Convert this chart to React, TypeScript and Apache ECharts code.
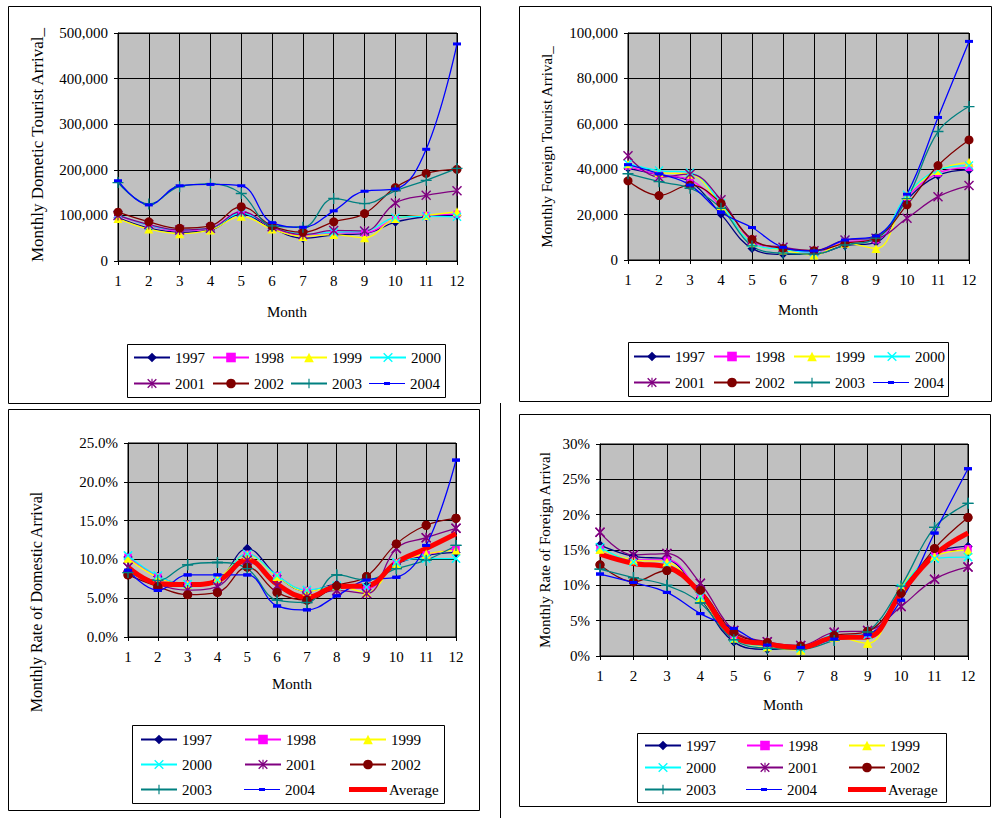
import React, { useEffect, useRef } from "react";
import * as echarts from "echarts";

const MONTHS = ["1", "2", "3", "4", "5", "6", "7", "8", "9", "10", "11", "12"];
const YEARS = ["1997", "1998", "1999", "2000", "2001", "2002", "2003", "2004"];

// Panel 1: monthly domestic tourist arrivals
const domestic1997 = [95000, 72000, 63000, 68000, 103000, 72000, 50000, 57000, 60000, 85000, 97000, 100000];
const domestic1998 = [100000, 78000, 66000, 72000, 108000, 74000, 56000, 62000, 62000, 92000, 100000, 103000];
const domestic1999 = [93000, 70000, 60000, 68000, 98000, 70000, 54000, 58000, 51000, 93000, 100000, 108000];
const domestic2000 = [102000, 78000, 68000, 72000, 105000, 76000, 59000, 63000, 65000, 95000, 98000, 97000];
const domestic2001 = [100000, 80000, 68000, 72000, 108000, 75000, 58000, 67000, 66000, 127000, 144000, 154000];
const domestic2002 = [107000, 86000, 72000, 77000, 119000, 77000, 63000, 86000, 104000, 161000, 192000, 201000];
const domestic2003 = [172000, 125000, 163000, 169000, 148000, 77000, 74000, 137000, 126000, 154000, 177000, 203000];
const domestic2004 = [176000, 123000, 165000, 168000, 165000, 84000, 74000, 110000, 153000, 158000, 245000, 476000];

// Panel 2: monthly foreign tourist arrivals
const foreign1997 = [40400, 37500, 34600, 20100, 5100, 2500, 2600, 6300, 7800, 26500, 37200, 39700];
const foreign1998 = [41200, 37500, 35300, 23500, 8000, 4700, 3400, 8000, 8800, 27600, 38200, 40700];
const foreign1999 = [42400, 38500, 37800, 24000, 7600, 4400, 2200, 7400, 5100, 28400, 39400, 43100];
const foreign2000 = [42400, 39400, 38500, 25000, 7400, 4700, 3400, 8800, 9600, 28700, 39700, 41600];
const foreign2001 = [45900, 36500, 37800, 26500, 8800, 5600, 4100, 8800, 9600, 18400, 27900, 32800];
const foreign2002 = [34900, 28400, 33000, 25000, 9100, 5100, 4100, 7400, 9700, 24300, 41600, 52900];
const foreign2003 = [38000, 34500, 31600, 22800, 6200, 3000, 2600, 6600, 9600, 27000, 56600, 67600];
const foreign2004 = [42000, 38000, 33000, 21000, 14300, 5600, 4000, 8800, 10600, 29000, 62800, 96300];

// Panel 3: monthly rate of domestic arrival (%)
const domRate1997 = [10.3, 7.8, 6.8, 7.35, 11.4, 7.9, 5.9, 6.75, 6.6, 9.4, 10.5, 10.9];
const domRate1998 = [10.3, 7.8, 6.8, 7.35, 10.7, 7.9, 6.0, 6.6, 6.2, 9.55, 10.6, 11.4];
const domRate1999 = [10.1, 7.7, 6.75, 7.5, 10.6, 7.8, 5.9, 6.6, 5.75, 9.5, 10.7, 11.2];
const domRate2000 = [10.5, 7.9, 6.8, 7.35, 10.7, 7.9, 6.05, 6.6, 6.4, 9.6, 10.1, 10.1];
const domRate2001 = [9.0, 6.8, 6.05, 6.5, 9.9, 6.6, 5.2, 6.0, 5.6, 11.4, 12.8, 14.0];
const domRate2002 = [8.0, 6.5, 5.45, 5.75, 9.0, 5.75, 4.75, 6.6, 7.8, 12.0, 14.4, 15.3];
const domRate2003 = [8.3, 7.3, 9.3, 9.6, 8.8, 4.75, 4.45, 8.0, 7.35, 8.8, 9.9, 11.8];
const domRate2004 = [8.6, 6.0, 8.0, 8.0, 8.0, 4.0, 3.5, 5.3, 7.35, 7.7, 11.8, 22.8];
const domRateAverage = [9.0, 6.9, 6.75, 7.2, 9.95, 6.8, 5.1, 6.5, 6.6, 9.6, 11.4, 13.3];

// Panel 4: monthly rate of foreign arrival (%)
const forRate1997 = [15.7, 14.1, 13.7, 8.2, 2.0, 0.95, 1.2, 2.6, 3.0, 9.3, 14.5, 15.5];
const forRate1998 = [15.2, 13.6, 13.6, 8.6, 2.7, 1.55, 1.3, 2.8, 3.05, 9.3, 14.3, 15.2];
const forRate1999 = [15.1, 13.6, 13.3, 8.3, 2.5, 1.3, 0.85, 2.7, 1.8, 9.8, 14.1, 15.0];
const forRate2000 = [15.4, 13.3, 12.9, 8.4, 2.5, 1.4, 1.1, 3.0, 3.0, 9.6, 13.8, 14.0];
const forRate2001 = [17.5, 14.3, 14.5, 10.3, 3.6, 2.0, 1.5, 3.35, 3.6, 7.0, 10.85, 12.6];
const forRate2002 = [12.9, 10.5, 12.1, 9.3, 3.35, 1.9, 1.4, 2.9, 3.5, 8.9, 15.2, 19.6];
const forRate2003 = [12.3, 11.1, 10.0, 7.5, 2.3, 1.1, 0.95, 2.2, 3.4, 9.9, 18.2, 21.6];
const forRate2004 = [11.6, 10.4, 9.0, 6.0, 3.9, 1.55, 1.2, 2.4, 3.0, 7.9, 17.4, 26.5];
const forRateAverage = [14.4, 13.1, 12.6, 8.9, 2.8, 1.7, 1.2, 2.6, 2.7, 8.9, 14.3, 17.4];

const DOMESTIC = [domestic1997, domestic1998, domestic1999, domestic2000, domestic2001, domestic2002, domestic2003, domestic2004];
const FOREIGN = [foreign1997, foreign1998, foreign1999, foreign2000, foreign2001, foreign2002, foreign2003, foreign2004];
const DOM_RATE = [domRate1997, domRate1998, domRate1999, domRate2000, domRate2001, domRate2002, domRate2003, domRate2004];
const FOR_RATE = [forRate1997, forRate1998, forRate1999, forRate2000, forRate2001, forRate2002, forRate2003, forRate2004];

const FONT = "Liberation Serif";

const X_PATH = "path://M0,1L1,0L5,4L9,0L10,1L6,5L10,9L9,10L5,6L1,10L0,9L4,5Z";
const STAR_PATH = "path://M0,1L1,0L5,4L9,0L10,1L6,5L10,9L9,10L5,6L1,10L0,9L4,5Z M4.4,0L5.6,0L5.6,10L4.4,10Z";
const PLUS_PATH = "path://M4.4,0L5.6,0L5.6,4.4L10,4.4L10,5.6L5.6,5.6L5.6,10L4.4,10L4.4,5.6L0,5.6L0,4.4L4.4,4.4Z";
const DASH_PATH = "path://M0,0L10,0L10,4L0,4Z";
const DASH_LEGEND_ICON = "path://M0,5.5L36,5.5L36,6.5L0,6.5Z M15,4.5L21,4.5L21,7.5L15,7.5Z";
const AVG_LEGEND_ICON = "path://M0,0L38,0L38,5L0,5Z";

const STYLE: Record<string, { color: string; symbol: string; size: any }> = {
  "1997": { color: "#000080", symbol: "diamond", size: 9 },
  "1998": { color: "#FF00FF", symbol: "rect", size: 7 },
  "1999": { color: "#FFFF00", symbol: "triangle", size: 9 },
  "2000": { color: "#00FFFF", symbol: X_PATH, size: 9 },
  "2001": { color: "#800080", symbol: STAR_PATH, size: 10 },
  "2002": { color: "#800000", symbol: "circle", size: 9 },
  "2003": { color: "#008080", symbol: PLUS_PATH, size: 11 },
  "2004": { color: "#0000FF", symbol: DASH_PATH, size: [8, 3] },
};

const GRIDS = [
  { left: 118, top: 33, width: 339, height: 228 },
  { left: 628, top: 33, width: 341, height: 227 },
  { left: 128, top: 443, width: 328, height: 194 },
  { left: 600, top: 444, width: 368, height: 212 },
];

function yearSeries(idx: number, name: string, data: number[], z: number, markersOnly = false) {
  const s = STYLE[name];
  return {
    type: "line",
    name,
    xAxisIndex: idx,
    yAxisIndex: idx,
    data,
    smooth: 0.4,
    symbol: s.symbol,
    symbolSize: s.size,
    showAllSymbol: true,
    z,
    silent: markersOnly,
    lineStyle: markersOnly ? { width: 0, opacity: 0 } : { color: s.color, width: 1.3 },
    itemStyle: { color: s.color },
    emphasis: { disabled: true },
  };
}

function avgSeries(idx: number, data: number[]) {
  return {
    type: "line",
    name: "Average",
    xAxisIndex: idx,
    yAxisIndex: idx,
    data,
    smooth: 0.4,
    symbol: "none",
    z: 4,
    lineStyle: { color: "#FF0000", width: 5 },
    itemStyle: { color: "#FF0000" },
    emphasis: { disabled: true },
  };
}

function legendItem(name: string, x: number, yc: number) {
  let item: any = name;
  let w = 36;
  let h = 12;
  if (name === "2004") item = { name, icon: DASH_LEGEND_ICON, itemStyle: { color: "#0000FF" } };
  if (name === "Average") {
    item = { name, icon: AVG_LEGEND_ICON, itemStyle: { color: "#FF0000" } };
    w = 38;
    h = 5;
  }
  return {
    show: true,
    left: x,
    top: yc - 6,
    padding: 0,
    itemWidth: w,
    itemHeight: h,
    itemGap: 0,
    selectedMode: false,
    data: [item],
    textStyle: { fontFamily: FONT, fontSize: 15, color: "#000", padding: [0, 0, 0, name === "Average" ? -3 : 0] },
  };
}

function buildOption() {
  const xAxes = GRIDS.map((_, i) => ({
    type: "category",
    gridIndex: i,
    data: MONTHS,
    boundaryGap: false,
    axisLine: { show: true, lineStyle: { color: "#000", width: 1 } },
    axisTick: { show: true, length: 4, lineStyle: { color: "#000" } },
    axisLabel: { fontFamily: FONT, fontSize: 15, color: "#000", margin: 12 },
    splitLine: { show: true, lineStyle: { color: "#000", width: 1 } },
  }));

  const yCommon = {
    type: "value",
    min: 0,
    axisLine: { show: true, lineStyle: { color: "#000", width: 1 } },
    axisTick: { show: true, length: 4, lineStyle: { color: "#000" } },
    splitLine: { show: true, lineStyle: { color: "#000", width: 1 } },
  };
  const labelBase = { fontFamily: FONT, fontSize: 15, color: "#000", margin: 10 };
  const yAxes = [
    { ...yCommon, gridIndex: 0, max: 500000, interval: 100000, axisLabel: { ...labelBase, formatter: (v: number) => v.toLocaleString("en-US") } },
    { ...yCommon, gridIndex: 1, max: 100000, interval: 20000, axisLabel: { ...labelBase, formatter: (v: number) => v.toLocaleString("en-US") } },
    { ...yCommon, gridIndex: 2, max: 25, interval: 5, axisLabel: { ...labelBase, formatter: (v: number) => v.toFixed(1) + "%" } },
    { ...yCommon, gridIndex: 3, max: 30, interval: 5, axisLabel: { ...labelBase, formatter: (v: number) => v + "%" } },
  ];

  const series: any[] = [];
  YEARS.forEach((y, k) => series.push(yearSeries(0, y, DOMESTIC[k], 2)));
  YEARS.forEach((y, k) => series.push(yearSeries(1, y, FOREIGN[k], 2)));
  YEARS.forEach((y, k) => series.push(yearSeries(2, y, DOM_RATE[k], 2)));
  series.push(avgSeries(2, domRateAverage));
  YEARS.forEach((y, k) => series.push(yearSeries(2, y, DOM_RATE[k], 5, true)));
  YEARS.forEach((y, k) => series.push(yearSeries(3, y, FOR_RATE[k], 2)));
  series.push(avgSeries(3, forRateAverage));
  YEARS.forEach((y, k) => series.push(yearSeries(3, y, FOR_RATE[k], 5, true)));

  const legends: any[] = [];
  const tlX = [133, 212, 290, 369];
  const tlY = [356, 382];
  YEARS.forEach((y, k) => legends.push(legendItem(y, tlX[k % 4], tlY[Math.floor(k / 4)])));
  const trX = [633, 713, 793, 873];
  const trY = [355, 381];
  YEARS.forEach((y, k) => legends.push(legendItem(y, trX[k % 4], trY[Math.floor(k / 4)])));
  const names9 = [...YEARS, "Average"];
  const blX = [140, 244, 349];
  const blY = [738, 763, 788];
  names9.forEach((y, k) => legends.push(legendItem(y, blX[k % 3], blY[Math.floor(k / 3)])));
  const brX = [644, 746, 848];
  const brY = [744, 766, 788];
  names9.forEach((y, k) => legends.push(legendItem(y, brX[k % 3], brY[Math.floor(k / 3)])));

  const box = (x: number, y: number, w: number, h: number) => ({
    type: "rect",
    silent: true,
    z: -1,
    shape: { x: x + 0.5, y: y + 0.5, width: w, height: h },
    style: { fill: "none", stroke: "#000", lineWidth: 1 },
  });
  const vtitle = (text: string, x: number, y: number, size: number) => ({
    type: "text",
    silent: true,
    x,
    y,
    rotation: Math.PI / 2,
    style: { text, fontFamily: FONT, fontSize: size, fill: "#000", align: "center", verticalAlign: "middle" },
  });
  const htitle = (text: string, x: number, y: number) => ({
    type: "text",
    silent: true,
    x,
    y,
    style: { text, fontFamily: FONT, fontSize: 15, fill: "#000", align: "center", verticalAlign: "middle" },
  });

  const graphic = [
    box(8, 6, 472, 397),
    box(519, 6, 472, 395),
    box(8, 409, 471, 401),
    box(519, 414, 471, 392),
    { type: "line", silent: true, shape: { x1: 500.5, y1: 403, x2: 500.5, y2: 818 }, style: { stroke: "#000", lineWidth: 1 } },
    box(127, 344, 318, 53),
    box(628, 342, 320, 54),
    box(132, 725, 312, 78),
    box(637, 733, 309, 69),
    vtitle("Monthly Dometic Tourist Arrival_", 37, 145, 17),
    vtitle("Monthly Foreign Tourist Arrival_", 547, 147, 15),
    vtitle("Monthly Rate of Domestic Arrival", 36, 602, 16),
    vtitle("Monthly Rate of Foreign Arrival", 545, 550, 15),
    htitle("Month", 287, 312),
    htitle("Month", 798, 310),
    htitle("Month", 292, 684),
    htitle("Month", 783, 705),
  ];

  return {
    animation: false,
    backgroundColor: "#fff",
    textStyle: { fontFamily: FONT, color: "#000" },
    grid: GRIDS.map((g) => ({ ...g, show: true, backgroundColor: "#C0C0C0", borderColor: "#000", borderWidth: 1 })),
    xAxis: xAxes,
    yAxis: yAxes,
    legend: legends,
    series,
    graphic,
  };
}

export default function App() {
  const ref = useRef<HTMLDivElement>(null);
  useEffect(() => {
    document.body.style.margin = "0";
    if (!ref.current) return;
    const chart = echarts.init(ref.current, undefined, { renderer: "svg" });
    chart.setOption(buildOption() as any);
    return () => chart.dispose();
  }, []);
  return <div ref={ref} style={{ width: 997, height: 818 }} />;
}
